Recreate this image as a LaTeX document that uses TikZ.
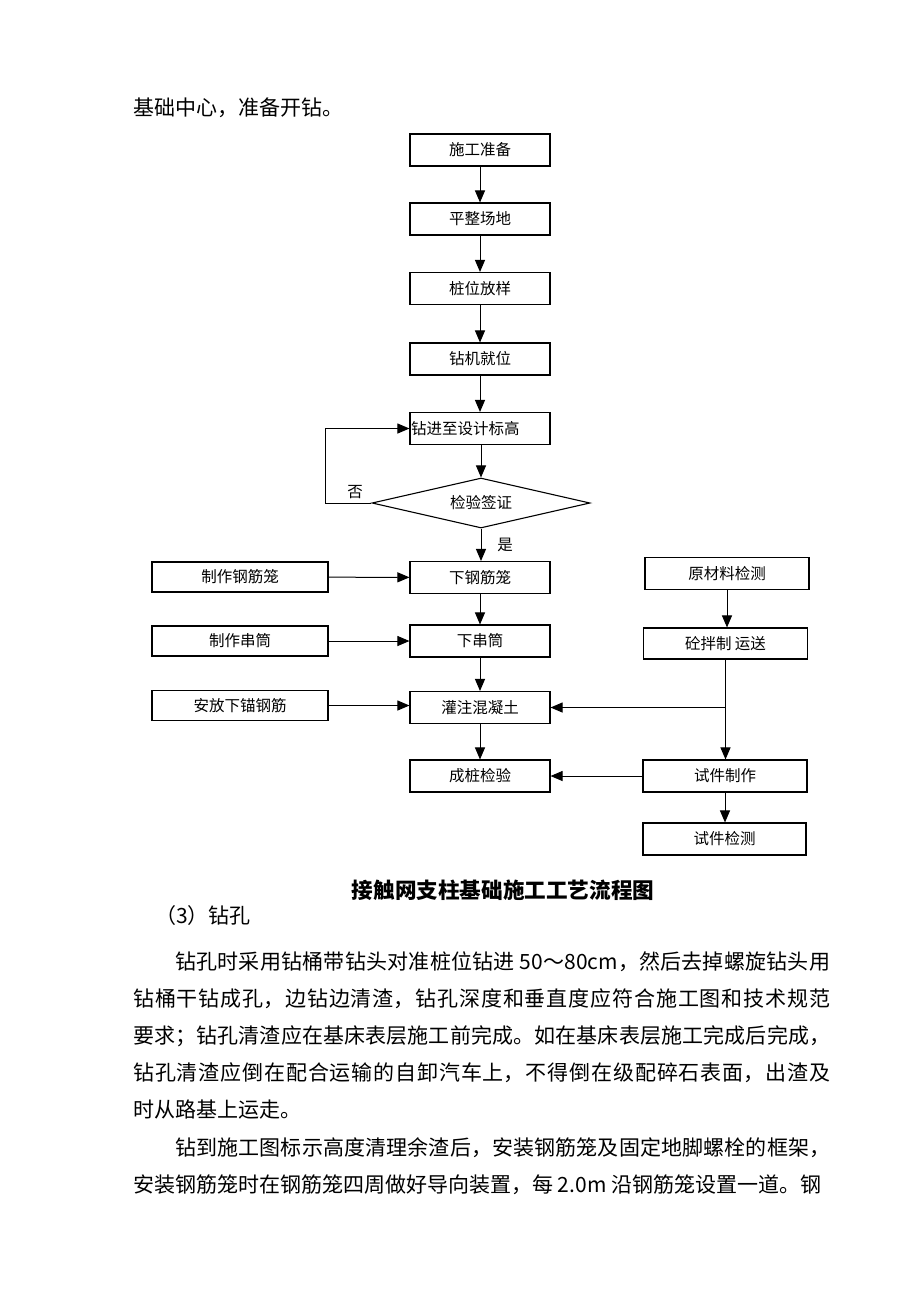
\documentclass[tikz,border=0pt]{standalone}
\usepackage{fontspec}
\setmainfont{Noto Sans CJK SC}
\usetikzlibrary{shapes,arrows.meta,positioning}
\XeTeXlinebreaklocale "zh"
\XeTeXlinebreakskip=0pt plus 2pt

\tikzset{
  box/.style={draw, line width=1.1pt, minimum width=140pt, minimum height=32pt, inner sep=0pt, font=\fontsize{15.5}{18}\selectfont},
  sidebox/.style={box, minimum width=176pt, minimum height=30pt},
  testbox/.style={box, minimum width=164pt, minimum height=32pt},
  check/.style={diamond, draw, line width=1.1pt, shape aspect=4.36, minimum width=218pt, minimum height=50pt, inner sep=0pt, font=\fontsize{15.5}{18}\selectfont},
  arr/.style={-{Triangle[length=12pt,width=10pt]}, line width=1pt},
  body/.style={anchor=base west, inner sep=0pt, font=\fontsize{21}{37}\selectfont},
  lbl/.style={inner sep=0pt, font=\fontsize{15.5}{18}\selectfont}
}

\begin{document}
\begin{tikzpicture}[x=1pt, y=-1pt]
\path[use as bounding box, fill=white] (0,0) rectangle (920,1302);

\node[body] (intro) at (133,115) {基础中心，准备开钻。};

\node[box] (prep) at (480,150) {施工准备};
\node[box] (level) at (480,219) {平整场地};
\node[box] (stake) at (480,288.5) {桩位放样};
\node[box] (rig) at (480,359) {钻机就位};
\node[box, text width=138pt, inner xsep=1pt, align=left] (drill) at (480,428.5) {钻进至设计标高};
\node[check] (verify) at (481,503) {检验签证};
\node[box] (cage) at (480,577.5) {下钢筋笼};
\node[box] (tube) at (480,641) {下串筒};
\node[box] (pour) at (480,707.5) {灌注混凝土};
\node[box] (pile) at (480,776) {成桩检验};

\node[sidebox] (makecage) at (240,577) {制作钢筋笼};
\node[sidebox] (maketube) at (240,641) {制作串筒};
\node[sidebox] (anchor) at (240,705.5) {安放下锚钢筋};

\node[testbox] (raw) at (727,573.5) {原材料检测};
\node[testbox, minimum height=31pt] (mix) at (725.5,643.5) {砼拌制 运送};
\node[testbox] (sample) at (725,776) {试件制作};
\node[testbox, minimum width=163pt] (test) at (724.5,839) {试件检测};

\draw[arr] (prep) -- (level);
\draw[arr] (level) -- (stake);
\draw[arr] (stake) -- (rig);
\draw[arr] (rig) -- (drill);
\draw[arr] (drill.south -| verify.north) -- (verify.north);
\draw[arr] (verify.south) -- (verify.south |- cage.north);
\draw[arr] (verify.west) -- ++(-46,0) |- (drill.west);
\node[lbl] (no) at (355,492) {否};
\node[lbl] (yes) at (505,545) {是};
\draw[arr] (cage) -- (tube);
\draw[arr] (tube) -- (pour);
\draw[arr] (pour) -- (pile);

\draw[arr] (makecage) -- (cage);
\draw[arr] (maketube) -- (tube);
\draw[arr] (anchor.east) -- (anchor.east -| pour.west);

\draw[arr] (raw) -- (raw |- mix.north);
\coordinate (fork) at (mix.south |- pour.east);
\draw[arr] (mix.south) -- (mix.south |- sample.north);
\draw[arr] (fork) -- (pour.east);
\draw[arr] (sample) -- (pile);
\draw[arr] (sample) -- (sample |- test.north);

\node[anchor=base, inner sep=0pt, font=\fontsize{21.6}{26}\selectfont\bfseries] (title) at (503,898) {接触网支柱基础施工工艺流程图};
\node[body] (sec) at (155,923) {（3）钻孔};

\node[body, text width=697pt, align=justify] (para1) at (133,969) {\hspace*{42pt}钻孔时采用钻桶带钻头对准桩位钻进 50～80cm，然后去掉螺旋钻头用\linebreak
钻桶干钻成孔，边钻边清渣，钻孔深度和垂直度应符合施工图和技术规范\linebreak
要求；钻孔清渣应在基床表层施工前完成。如在基床表层施工完成后完成，\linebreak
钻孔清渣应倒在配合运输的自卸汽车上，不得倒在级配碎石表面，出渣及\linebreak
时从路基上运走。};

\node[body, text width=697pt, align=justify] (para2) at (133,1155) {\parfillskip=0pt\hspace*{42pt}钻到施工图标示高度清理余渣后，安装钢筋笼及固定地脚螺栓的框架，\linebreak
安装钢筋笼时在钢筋笼四周做好导向装置，每 2.0m 沿钢筋笼设置一道。钢};
\end{tikzpicture}
\end{document}
